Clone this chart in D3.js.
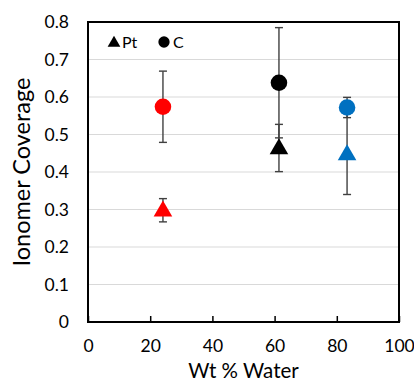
<!DOCTYPE html>
<html>
<head>
<meta charset="utf-8">
<script src="https://cdn.jsdelivr.net/npm/d3@7"></script>
<style>
  html, body { margin: 0; padding: 0; background: #fff; }
  svg { display: block; }
  text { font-family: Lato, "Open Sans", sans-serif; fill: #000; }
</style>
</head>
<body>
<svg id="chart" width="414" height="383"></svg>
<script>
// Ionomer coverage versus water content, Pt and C sites
const water = [24.1, 61.4, 83.3];
const colors = ["#ff0000", "#000000", "#0070c0"];
const ptCoverage = [0.298, 0.464, 0.448];
const ptError = [0.031, 0.063, 0.108];
const cCoverage = [0.574, 0.638, 0.572];
const cError = [0.095, 0.147, 0.027];
const xTicks = [0, 20, 40, 60, 80, 100];
const yTicks = [0, 0.1, 0.2, 0.3, 0.4, 0.5, 0.6, 0.7, 0.8];

const svg = d3.select("#chart");
const m = { left: 88, right: 399, top: 22, bottom: 322 };

const x = d3.scaleLinear().domain([0, 100]).range([m.left, m.right]);
const y = d3.scaleLinear().domain([0, 0.8]).range([m.bottom, m.top]);

// horizontal gridlines
svg.append("g").selectAll("line")
  .data(yTicks.filter(t => t > 0 && t < 0.8))
  .join("line")
  .attr("x1", m.left).attr("x2", m.right)
  .attr("y1", d => y(d)).attr("y2", d => y(d))
  .attr("stroke", "#d9d9d9").attr("stroke-width", 1.2);

// y axis labels (no tick marks)
const yAxis = d3.axisLeft(y).tickValues(yTicks).tickSize(0).tickPadding(19)
  .tickFormat(d => d === 0 ? "0" : d3.format(".1f")(d));
svg.append("g").attr("transform", `translate(${m.left},0)`).call(yAxis)
  .call(g => g.select(".domain").remove())
  .call(g => g.selectAll("text").attr("font-size", 17.5).attr("font-family", "Lato, sans-serif").attr("fill", "#000"));

// x axis with inward ticks
const xAxis = d3.axisBottom(x).tickValues(xTicks).tickSize(-6).tickPadding(18)
  .tickFormat(d3.format("d"));
svg.append("g").attr("transform", `translate(0,${m.bottom})`).call(xAxis)
  .call(g => g.select(".domain").remove())
  .call(g => g.selectAll("line").attr("stroke", "#000").attr("stroke-width", 1.5))
  .call(g => g.selectAll("text").attr("font-size", 17.5).attr("font-family", "Lato, sans-serif").attr("fill", "#000"));

// plot frame
svg.append("rect")
  .attr("x", m.left).attr("y", m.top)
  .attr("width", m.right - m.left).attr("height", m.bottom - m.top)
  .attr("fill", "none").attr("stroke", "#000").attr("stroke-width", 2);

// error bars
function errorBars(vals, errs) {
  const g = svg.append("g").attr("stroke", "#404040").attr("stroke-width", 1.4);
  vals.forEach((v, i) => {
    const cx = x(water[i]);
    g.append("line").attr("x1", cx).attr("x2", cx)
      .attr("y1", y(v - errs[i])).attr("y2", y(v + errs[i]));
    [v - errs[i], v + errs[i]].forEach(e => {
      g.append("line").attr("x1", cx - 4).attr("x2", cx + 4)
        .attr("y1", y(e)).attr("y2", y(e));
    });
  });
}
errorBars(cCoverage, cError);
errorBars(ptCoverage, ptError);

const tri = d3.symbol().type(d3.symbolTriangle).size(150);
const circ = d3.symbol().type(d3.symbolCircle).size(215);

svg.append("g").selectAll("path")
  .data(cCoverage)
  .join("path")
  .attr("d", circ)
  .attr("transform", (d, i) => `translate(${x(water[i])},${y(d)})`)
  .attr("fill", (d, i) => colors[i]);

svg.append("g").selectAll("path")
  .data(ptCoverage)
  .join("path")
  .attr("d", tri)
  .attr("transform", (d, i) => `translate(${x(water[i])},${y(d) + 1})`)
  .attr("fill", (d, i) => colors[i]);

// legend
const lg = svg.append("g");
lg.append("path").attr("d", d3.symbol().type(d3.symbolTriangle).size(70))
  .attr("transform", "translate(114,43)").attr("fill", "#000");
lg.append("text").attr("x", 122).attr("y", 48).attr("font-size", 16).text("Pt");
lg.append("path").attr("d", d3.symbol().type(d3.symbolCircle).size(100))
  .attr("transform", "translate(164,42)").attr("fill", "#000");
lg.append("text").attr("x", 173).attr("y", 48).attr("font-size", 16).text("C");

// axis titles
svg.append("text").attr("x", (m.left + m.right) / 2).attr("y", 378)
  .attr("text-anchor", "middle").attr("font-size", 20.5).text("Wt % Water");
svg.append("text")
  .attr("transform", `translate(30,${(m.top + m.bottom) / 2}) rotate(-90)`)
  .attr("text-anchor", "middle").attr("font-size", 23.5).text("Ionomer Coverage");
</script>
</body>
</html>
